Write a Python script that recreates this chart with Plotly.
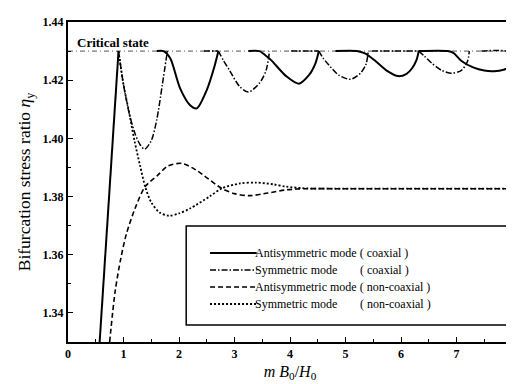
import plotly.graph_objects as go

# ---------------- data ----------------
# Antisymmetric mode (coaxial) - solid; None separates arches
anti_coax_x = [0.57, 0.91, None,
               1.60, 1.72, 1.84, 2.02, 2.20, 2.32, 2.50, 2.64, 2.71, None,
               3.25, 3.45, 3.56, 3.66, 3.93, 4.16, 4.34, 4.46, 4.52, None,
               4.82, 5.20, 5.35, 5.54, 5.75, 5.95, 6.10, 6.20, 6.28, 6.32, None,
               6.32, 6.84, 6.95, 7.09, 7.30, 7.50, 7.68, 7.85, 8.00]
anti_coax_y = [1.330, 1.430, None,
               1.430, 1.430, 1.4276, 1.4172, 1.4114, 1.4103, 1.4166, 1.4248, 1.430, None,
               1.430, 1.430, 1.4285, 1.4269, 1.4214, 1.4188, 1.4217, 1.4259, 1.430, None,
               1.430, 1.430, 1.4292, 1.4266, 1.4232, 1.4214, 1.4222, 1.4241, 1.4270, 1.430, None,
               1.430, 1.430, 1.4293, 1.4266, 1.4244, 1.4233, 1.4231, 1.4236, 1.4248]

# Symmetric mode (coaxial) - dash-dot
sym_coax_x = [0.91, 1.00, 1.11, 1.21, 1.30, 1.38, 1.50, 1.60, 1.70, 1.79, None,
              2.45, 2.71, None,
              2.71, 2.80, 2.91, 3.09, 3.25, 3.45, 3.57, 3.63, None,
              4.02, 4.52, None,
              4.52, 4.60, 4.70, 4.88, 5.09, 5.27, 5.37, 5.41, None,
              5.48, 6.32, None,
              6.32, 6.42, 6.55, 6.73, 6.91, 7.09, 7.20, 7.23, None,
              7.45, 7.90, 8.00]
sym_coax_y = [1.430, 1.4185, 1.4080, 1.4015, 1.3978, 1.3963, 1.3992, 1.4065, 1.4185, 1.430, None,
              1.430, 1.430, None,
              1.430, 1.4268, 1.4234, 1.4179, 1.4159, 1.4190, 1.4234, 1.430, None,
              1.430, 1.430, None,
              1.430, 1.4275, 1.4252, 1.4217, 1.4203, 1.4224, 1.4255, 1.430, None,
              1.430, 1.430, None,
              1.430, 1.4283, 1.4259, 1.4234, 1.4224, 1.4234, 1.4266, 1.430, None,
              1.430, 1.430, 1.4285]

# Antisymmetric mode (non-coaxial) - dashed
anti_noncoax_x = [0.75, 0.85, 0.95, 1.05, 1.21, 1.39, 1.61, 1.80, 2.05, 2.30, 2.45,
                  2.77, 3.00, 3.27, 3.60, 3.93, 4.30, 4.80, 6.00, 8.00]
anti_noncoax_y = [1.3300, 1.3475, 1.3586, 1.3670, 1.3760, 1.3834, 1.3872, 1.3905, 1.3914,
                  1.3892, 1.3872, 1.3828, 1.3810, 1.3803, 1.3812, 1.3823, 1.3827, 1.3827,
                  1.3827, 1.3827]

# Symmetric mode (non-coaxial) - dotted
sym_noncoax_x = [0.91, 1.00, 1.11, 1.20, 1.30, 1.39, 1.50, 1.65, 1.82, 2.00, 2.20, 2.55,
                 2.77, 3.10, 3.39, 3.70, 3.93, 4.30, 4.80, 6.00, 8.00]
sym_noncoax_y = [1.4300, 1.4185, 1.4080, 1.3990, 1.3905, 1.3834, 1.3780, 1.3745, 1.3734,
                 1.3742, 1.3759, 1.3800, 1.3828, 1.3845, 1.3848, 1.3842, 1.3834, 1.3828,
                 1.3827, 1.3827, 1.3827]

critical_x = [0.0, 8.0]
critical_y = [1.43, 1.43]

legend_modes = ["Antisymmetric mode", "Symmetric mode", "Antisymmetric mode", "Symmetric mode"]
legend_kinds = ["( coaxial )", "( coaxial )", "( non-coaxial )", "( non-coaxial )"]

x_ticks = [0, 1, 2, 3, 4, 5, 6, 7, 8]
y_ticks = [1.34, 1.36, 1.38, 1.40, 1.42, 1.44]

FONT = "'Liberation Serif', 'Times New Roman', 'DejaVu Serif', serif"

W, H = 514, 384
ML, MR, MT, MB = 60, 7, 14, 50
PW, PH = W - ML - MR, H - MT - MB


def px(xp):
    return (xp - ML) / PW


def py(yp):
    return (H - MB - yp) / PH


styles = [dict(color="black", width=2),
          dict(color="black", width=1.5, dash="6px,2px,1.5px,2px"),
          dict(color="black", width=1.6, dash="5px,3px"),
          dict(color="black", width=1.8, dash="2px,2px")]

fig = go.Figure()

fig.add_trace(go.Scatter(x=critical_x, y=critical_y, mode="lines", showlegend=False,
                         line=dict(color="#555", width=1, dash="5px,3px,1px,3px"),
                         hoverinfo="skip"))
series = [(anti_coax_x, anti_coax_y), (sym_coax_x, sym_coax_y),
          (anti_noncoax_x, anti_noncoax_y), (sym_noncoax_x, sym_noncoax_y)]
for i in [3, 2, 1, 0]:
    sx, sy = series[i]
    fig.add_trace(go.Scatter(x=sx, y=sy, mode="lines", showlegend=False,
                             name=legend_modes[i] + " " + legend_kinds[i], connectgaps=False,
                             line=dict(**styles[i], shape="spline", smoothing=0.8)))

fig.add_annotation(x=0.12, y=1.4300, xref="x", yref="y", text="<b>Critical state</b>",
                   showarrow=False, xanchor="left", yanchor="bottom", yshift=-1,
                   font=dict(family=FONT, size=13, color="black"))

# legend box (drawn in paper coordinates)
shapes = [dict(type="rect", xref="paper", yref="paper", x0=px(179), x1=px(503),
               y0=py(317), y1=py(218), line=dict(color="black", width=1.5),
               fillcolor="white", layer="above")]
row_y = [245, 262, 279, 296]
LFS = 12
for i in range(4):
    shapes.append(dict(type="line", xref="paper", yref="paper", x0=px(203), x1=px(250),
                       y0=py(row_y[i]), y1=py(row_y[i]), line=styles[i], layer="above"))
    if i % 2 == 0:
        fig.add_annotation(x=px(252), y=py(row_y[i]), xref="paper", yref="paper",
                           text=legend_modes[i] + " " + legend_kinds[i], showarrow=False,
                           xanchor="left", yanchor="middle", xshift=-6,
                           font=dict(family=FONT, size=LFS, color="black"))
    else:
        fig.add_annotation(x=px(252), y=py(row_y[i]), xref="paper", yref="paper",
                           text=legend_modes[i], showarrow=False, xanchor="left",
                           yanchor="middle", xshift=-6,
                           font=dict(family=FONT, size=LFS, color="black"))
        fig.add_annotation(x=px(358), y=py(row_y[i]), xref="paper", yref="paper",
                           text=legend_kinds[i], showarrow=False, xanchor="left",
                           yanchor="middle", xshift=-6,
                           font=dict(family=FONT, size=LFS, color="black"))

fig.update_layout(
    width=W, height=H,
    margin=dict(l=ML, r=MR, t=MT, b=MB),
    paper_bgcolor="white", plot_bgcolor="white",
    font=dict(family=FONT, color="black"),
    showlegend=False,
    shapes=shapes,
)

fig.update_xaxes(range=[0, 8], tickvals=x_ticks, ticktext=[str(v) for v in x_ticks],
                 ticks="inside", ticklen=5, tickwidth=1.2, tickcolor="black",
                 minor=dict(ticks="inside", ticklen=3, dtick=0.5, tickcolor="black"),
                 showline=True, linecolor="black", linewidth=2, mirror=True,
                 showgrid=False, zeroline=False,
                 tickfont=dict(family=FONT, size=12, color="black", weight="bold"),
                 title=dict(text="<i>m B</i><sub>0</sub>/<i>H</i><sub>0</sub>",
                            font=dict(family=FONT, size=16, color="black"), standoff=5))

fig.update_yaxes(range=[1.33, 1.44], tickvals=y_ticks, ticktext=[f"{v:.2f}" for v in y_ticks],
                 ticks="inside", ticklen=5, tickwidth=1.2, tickcolor="black",
                 minor=dict(ticks="inside", ticklen=3, dtick=0.01, tickcolor="black"),
                 showline=True, linecolor="black", linewidth=2, mirror=True,
                 showgrid=False, zeroline=False,
                 tickfont=dict(family=FONT, size=12, color="black", weight="bold"),
                 title=dict(text="Bifurcation stress ratio <i>η</i><sub>y</sub>",
                            font=dict(family=FONT, size=17.5, color="black"), standoff=7))

fig.write_html("out.html")
